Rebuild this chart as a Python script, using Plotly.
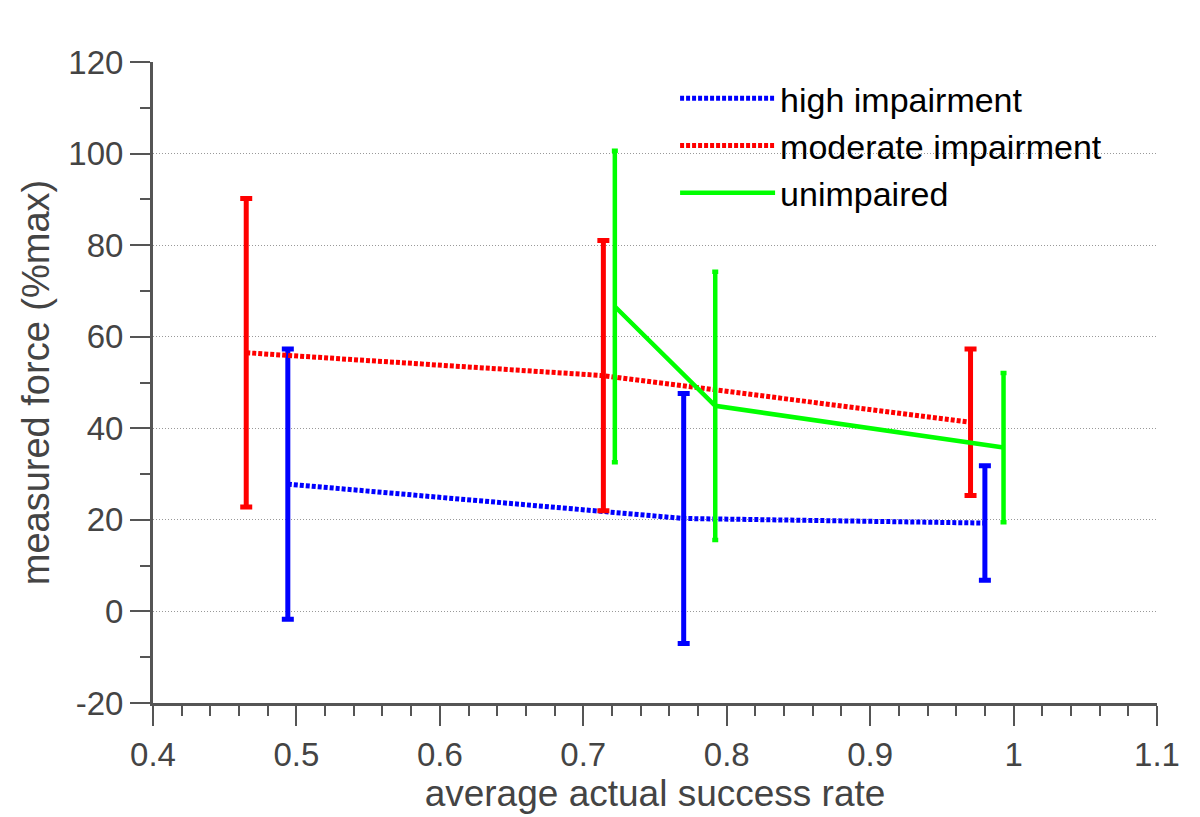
import plotly.graph_objects as go

# data
high_x = [0.494, 0.770, 0.980]
high_y = [27.8, 20.3, 19.3]
high_err = [29.5, 27.3, 12.5]

mod_x = [0.465, 0.714, 0.970]
mod_y = [56.5, 51.5, 41.3]
mod_err = [33.7, 29.5, 16.0]

unimp_x = [0.722, 0.792, 0.993]
unimp_y = [66.6, 44.9, 35.8]
unimp_err = [34.0, 29.3, 16.3]

x_ticks = [0.4, 0.5, 0.6, 0.7, 0.8, 0.9, 1.0, 1.1]
x_ticktext = ["0.4", "0.5", "0.6", "0.7", "0.8", "0.9", "1", "1.1"]
y_ticks = [-20, 0, 20, 40, 60, 80, 100, 120]
y_ticktext = ["-20", "0", "20", "40", "60", "80", "100", "120"]

BLUE = "#0000ff"
RED = "#ff0000"
GREEN = "#00ff00"

fig = go.Figure()

fig.add_trace(go.Scatter(
    x=high_x, y=high_y, mode="lines", name="high impairment",
    line=dict(color=BLUE, width=5, dash="4px,2px"),
    error_y=dict(type="data", array=high_err, visible=True, color=BLUE, thickness=5, width=6),
))
fig.add_trace(go.Scatter(
    x=mod_x, y=mod_y, mode="lines", name="moderate impairment",
    line=dict(color=RED, width=5, dash="4px,2px"),
    error_y=dict(type="data", array=mod_err, visible=True, color=RED, thickness=5, width=6),
))
fig.add_trace(go.Scatter(
    x=unimp_x, y=unimp_y, mode="lines", name="unimpaired",
    line=dict(color=GREEN, width=4.5),
    error_y=dict(type="data", array=unimp_err, visible=True, color=GREEN, thickness=4.5, width=3),
))

axis_col = "#555555"
FAM = "Liberation Sans, Arial, sans-serif"
tick_font = dict(family=FAM, size=33, color="#444444")

fig.update_layout(
    width=1200, height=817,
    margin=dict(l=145, r=51, t=54, b=122),
    plot_bgcolor="white", paper_bgcolor="white",
    showlegend=True,
    legend=dict(
        x=0.52, y=0.988, xanchor="left", yanchor="top",
        font=dict(family=FAM, size=34, color="black"),
        bgcolor="rgba(0,0,0,0)", itemwidth=95, tracegroupgap=0,
    ),
    xaxis=dict(
        range=[0.4, 1.1], tickmode="array",
        tickvals=x_ticks, ticktext=x_ticktext,
        ticks="outside", ticklen=20, tickwidth=2, tickcolor=axis_col,
        minor=dict(dtick=0.02, tick0=0.4, ticks="outside", ticklen=10, tickwidth=2, tickcolor=axis_col, showgrid=False),
        showline=True, linecolor=axis_col, linewidth=3,
        showgrid=False, zeroline=False, automargin=False,
        tickfont=tick_font,
        title=dict(text="average actual success rate", font=dict(family=FAM, size=37, color="#444444"), standoff=2),
    ),
    yaxis=dict(
        range=[-20, 120], tickmode="array",
        tickvals=y_ticks, ticktext=y_ticktext,
        ticks="outside", ticklen=20, tickwidth=2, tickcolor=axis_col,
        minor=dict(dtick=10, tick0=-20, ticks="outside", ticklen=10, tickwidth=2, tickcolor=axis_col, showgrid=False),
        showline=True, linecolor=axis_col, linewidth=3,
        showgrid=True, gridcolor="#999999", gridwidth=1, griddash="1px,2px",
        zeroline=False, automargin=False,
        tickfont=tick_font,
        title=dict(text="measured force (%max)", font=dict(family=FAM, size=38, color="#444444"), standoff=8),
    ),
)

fig.write_html("out.html")
